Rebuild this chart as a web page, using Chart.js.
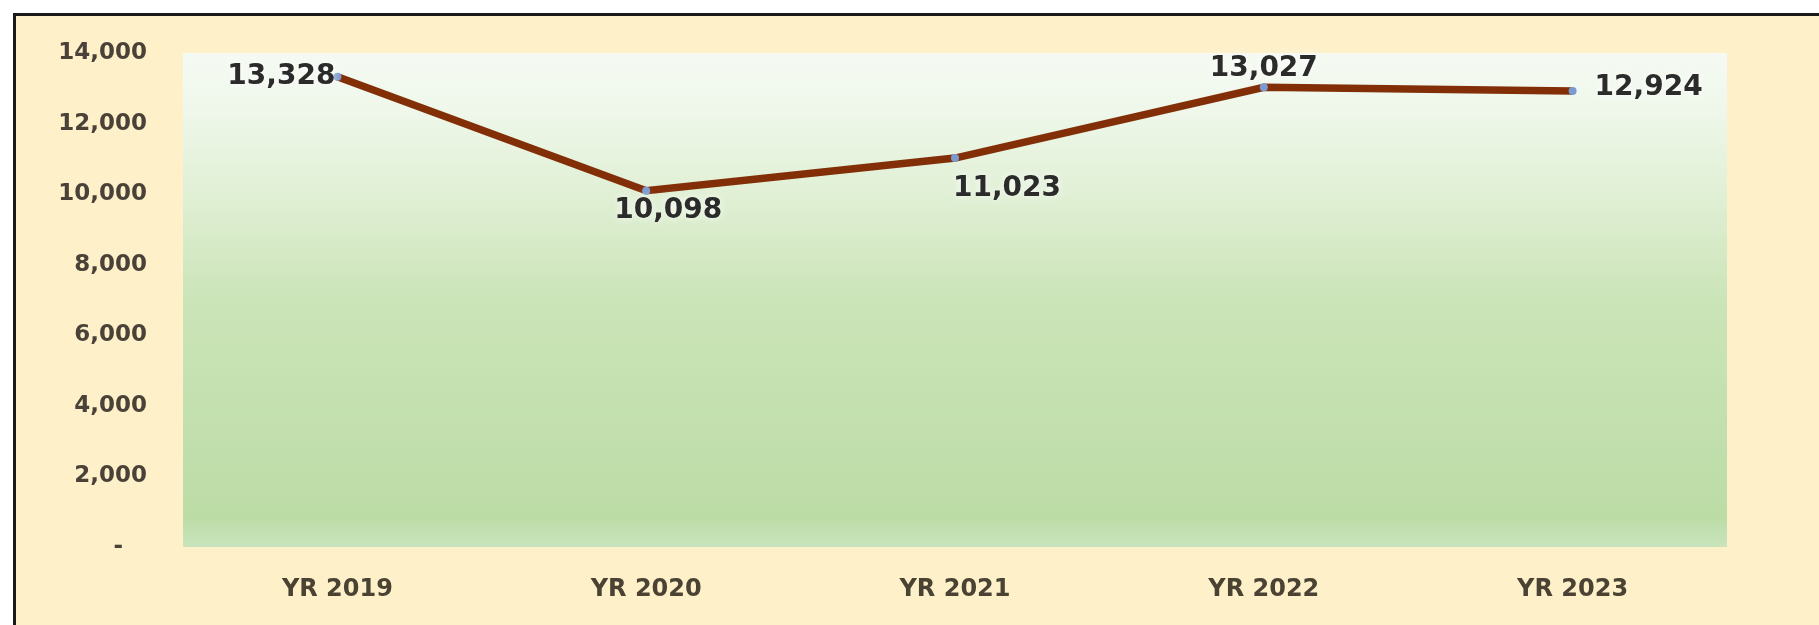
<!DOCTYPE html>
<html>
<head>
<meta charset="utf-8">
<script src="https://cdn.jsdelivr.net/npm/chart.js@4.4.1/dist/chart.umd.min.js"></script>
<style>
  body { margin: 0; background: #fff; }
  #frame {
    position: absolute; left: 13px; top: 13px; right: 0; bottom: 0;
    border-left: 3px solid #1a1a1a; border-top: 3px solid #1a1a1a;
    background: #fef0c9;
  }
  #chart { position: absolute; left: 0; top: 0; }
</style>
</head>
<body>
<div id="frame"></div>
<canvas id="chart" width="1819" height="625"></canvas>
<script>
// data
var years = ["YR 2019", "YR 2020", "YR 2021", "YR 2022", "YR 2023"];
var values = [13328, 10098, 11023, 13027, 12924];
var yTicks = [0, 2000, 4000, 6000, 8000, 10000, 12000, 14000];

// where each value label sits relative to its point
var labelSpots = ["left", "below", "belowRight", "above", "right"];

var fontFam = "'DejaVu Sans', Verdana, sans-serif";

// green gradient behind the plot area
var plotBg = {
  id: 'plotBg',
  beforeDatasetsDraw: function (chart) {
    var a = chart.chartArea, c = chart.ctx;
    var g = c.createLinearGradient(0, a.top, 0, a.bottom);
    g.addColorStop(0, '#f5faf2');
    g.addColorStop(0.1, '#f0f8ec');
    g.addColorStop(0.3, '#dfefd3');
    g.addColorStop(0.5, '#cbe4b8');
    g.addColorStop(0.94, '#bcdca6');
    g.addColorStop(1, '#c9e4bd');
    c.save();
    c.fillStyle = g;
    c.fillRect(a.left, a.top, a.right - a.left, a.bottom - a.top);
    c.restore();
  }
};

// value labels
var valueLabels = {
  id: 'valueLabels',
  afterDatasetsDraw: function (chart) {
    var c = chart.ctx;
    var pts = chart.getDatasetMeta(0).data;
    c.save();
    c.font = "bold 28px " + fontFam;
    c.fillStyle = '#2b2b2b';
    c.shadowColor = 'rgba(255,255,255,0.9)';
    c.shadowBlur = 8;
    pts.forEach(function (p, i) {
      var txt = values[i].toLocaleString('en-US');
      var x = p.x, y = p.y;
      c.textBaseline = 'middle';
      switch (labelSpots[i]) {
        case 'left': c.textAlign = 'right'; x -= 2; break;
        case 'right': c.textAlign = 'left'; x += 22; y -= 3; break;
        case 'above': c.textAlign = 'center'; y -= 19; break;
        case 'below': c.textAlign = 'center'; x += 22; y += 20; break;
        case 'belowRight': c.textAlign = 'left'; x -= 2; y += 31; break;
      }
      c.fillText(txt, x, y);
    });
    c.restore();
  }
};

new Chart(document.getElementById('chart'), {
  type: 'line',
  data: {
    labels: years,
    datasets: [{
      data: values,
      borderColor: '#822f08',
      borderWidth: 7.5,
      pointRadius: 4,
      pointBackgroundColor: '#7b9bd0',
      pointBorderWidth: 0,
      tension: 0
    }]
  },
  options: {
    responsive: false,
    animation: false,
    layout: { padding: { top: 53, right: 92, left: 0, bottom: 0 } },
    plugins: { legend: { display: false }, tooltip: { enabled: false } },
    scales: {
      x: {
        offset: true,
        grid: { display: false, drawTicks: false },
        border: { display: false },
        ticks: {
          padding: 28,
          color: '#4a4232',
          font: { family: fontFam, size: 24, weight: 'bold' }
        },
        afterFit: function (s) { s.height = 78; }
      },
      y: {
        min: 0,
        max: 14000,
        afterBuildTicks: function (s) {
          s.ticks = yTicks.map(function (v) { return { value: v }; });
        },
        grid: { display: false, drawTicks: false },
        border: { display: false },
        ticks: {
          padding: 36,
          color: '#4a4238',
          font: { family: fontFam, size: 23, weight: 'bold' },
          callback: function (v) { return v === 0 ? '-   ' : v.toLocaleString('en-US'); }
        },
        afterFit: function (s) { s.width = 183; }
      }
    }
  },
  plugins: [plotBg, valueLabels]
});
</script>
</body>
</html>
